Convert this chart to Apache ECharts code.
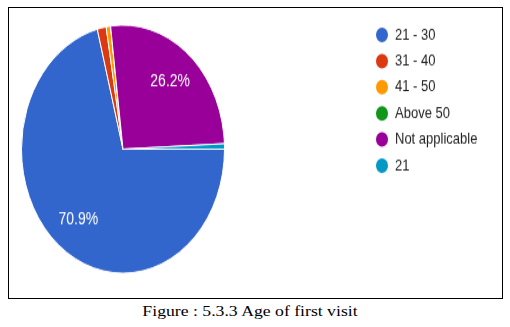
<!DOCTYPE html>
<html>
<head>
<meta charset="utf-8">
<script src="https://cdn.jsdelivr.net/npm/echarts@6/dist/echarts.min.js"></script>
<style>
  html, body { margin: 0; padding: 0; background: #fff; width: 510px; height: 327px; overflow: hidden; }
  #frame {
    position: absolute; left: 8px; top: 7px;
    width: 493px; height: 290px;
    border: 1px solid #000; overflow: hidden;
  }
  #chart {
    position: absolute; left: 0; top: 0;
    width: 493px; height: 237px;
    transform: scaleY(1.2222); transform-origin: 0 0;
  }
  #caption {
    position: absolute; left: 0; width: 500px; top: 303px;
    text-align: center;
    font-family: "Liberation Serif", "Times New Roman", serif;
    font-size: 14.5px; line-height: 16px; color: #000;
    transform: scaleX(1.22); transform-origin: 250px 0;
  }
</style>
</head>
<body>
<div id="frame"><div id="chart"></div></div>
<div id="caption">Figure : 5.3.3 Age of first visit</div>
<script>
// Age at first visit: respondents per age group
const categories = ['21 - 30', '31 - 40', '41 - 50', 'Above 50', 'Not applicable', '21'];
const counts = [100, 2, 1, 0, 37, 1];
const sliceColors = ['#3366cc', '#dc3912', '#ff9900', '#109618', '#990099', '#0099c6'];

const total = counts.reduce((a, b) => a + b, 0);

const pieData = categories.map((name, i) => ({
  name: name,
  value: counts[i],
  itemStyle: { color: sliceColors[i] }
}));

const center = [114, 115.5];
const radius = 101.5;

const chart = echarts.init(document.getElementById('chart'), null, { renderer: 'canvas' });
chart.setOption({
  animation: false,
  legend: {
    orient: 'vertical',
    left: 365,
    top: 14,
    padding: 0,
    icon: 'circle',
    itemWidth: 14,
    itemHeight: 14,
    itemGap: 5.4,
    textStyle: {
      fontFamily: 'Arial, "Liberation Sans", sans-serif',
      fontSize: 13,
      color: '#222222',
      padding: [0, 0, 0, 1]
    },
    data: categories.map((name, i) => ({ name: name, itemStyle: { color: sliceColors[i] } }))
  },
  series: [
    {
      // the slices themselves
      type: 'pie',
      center: center,
      radius: radius,
      startAngle: 0,
      clockwise: true,
      label: { show: false },
      labelLine: { show: false },
      itemStyle: { borderColor: '#ffffff', borderWidth: 1 },
      emphasis: { disabled: true },
      data: pieData
    },
    {
      // transparent ring that carries the percentage labels further out
      type: 'pie',
      center: center,
      radius: [radius * 0.38, radius],
      startAngle: 0,
      clockwise: true,
      silent: true,
      itemStyle: { color: 'transparent', borderWidth: 0 },
      labelLine: { show: false },
      label: {
        show: true,
        position: 'inside',
        color: '#ffffff',
        fontFamily: '"Liberation Sans Narrow", "Arial Narrow", Arial, sans-serif',
        fontSize: 14,
        formatter: p => {
          const pct = p.value / total * 100;
          return pct >= 5 ? pct.toFixed(1) + '%' : '';
        }
      },
      emphasis: { disabled: true },
      data: categories.map((name, i) => ({ name: name, value: counts[i] }))
    }
  ]
});
</script>
</body>
</html>
